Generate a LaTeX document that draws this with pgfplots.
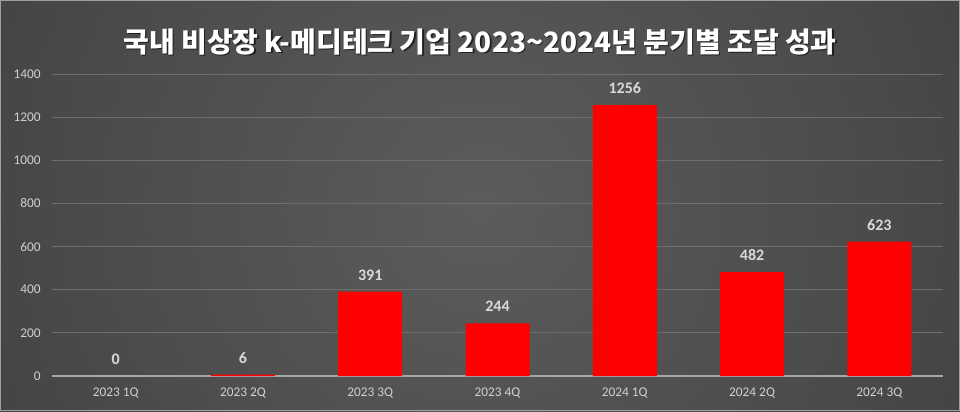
\documentclass[border=0pt]{standalone}
\usepackage{fontspec}
\setmainfont{Carlito}
\newfontfamily\kr{Noto Sans CJK KR}
\usepackage{pgfplots}
\pgfplotsset{compat=1.18}
\definecolor{bgin}{HTML}{5C5C5C}
\definecolor{bgmid}{HTML}{4A4A4A}
\definecolor{bgedge}{HTML}{2E2E2E}
\definecolor{bgout}{HTML}{262626}
\definecolor{gridc}{HTML}{6E6E6E}
\definecolor{axisc}{HTML}{A6A6A6}
\definecolor{tickc}{HTML}{D0D0D0}
\definecolor{valc}{HTML}{D9D9D9}
\definecolor{barred}{HTML}{FF0000}
\pgfdeclareradialshading{bgshade}{\pgfpoint{0bp}{0bp}}{color(0bp)=(bgin); color(19.6bp)=(bgmid); color(46bp)=(bgedge); color(50bp)=(bgout); color(72bp)=(bgout)}
\begin{document}
\begin{tikzpicture}[x=1pt,y=1pt]
\useasboundingbox (0,0) rectangle (720,308.25);
\begin{scope}
\clip (0,0) rectangle (720,308.25);
\shade[shading=bgshade] (-31.5,-237.375) rectangle (751.5,545.625);
\end{scope}
\draw[gray!75, line width=0.9pt] (0.45,0.45) rectangle (719.55,307.8);
\node[text=black, opacity=0.6, font=\kr\bfseries\fontsize{21}{24}\selectfont] at (361,275.75) {국내 비상장 k-메디테크 기업 2023\char`~2024년 분기별 조달 성과};
\node[text=white, font=\kr\bfseries\fontsize{21}{24}\selectfont] at (360,276.75) {국내 비상장 k-메디테크 기업 2023\char`~2024년 분기별 조달 성과};
\begin{axis}[
  at={(39pt,26.25pt)}, anchor=south west,
  scale only axis, width=668.25pt, height=226.5pt,
  xmin=-0.5, xmax=6.5, ymin=0, ymax=1400,
  xtick={0,1,2,3,4,5,6},
  xticklabels={2023 1Q,2023 2Q,2023 3Q,2023 4Q,2024 1Q,2024 2Q,2024 3Q},
  ytick={200,400,...,1400},
  extra y ticks={0},
  extra y tick style={grid style={draw=axisc, line width=1.3pt}},
  ymajorgrids,
  grid style={draw=gridc, line width=0.6pt},
  axis line style={draw=none},
  major tick length=0pt,
  tick style={draw=none},
  /pgf/number format/assume math mode=true,
  /pgf/number format/1000 sep={},
  ticklabel style={font=\fontsize{10}{12}\selectfont, text=tickc},
  yticklabel style={xshift=-5pt},
  xticklabel style={yshift=-5pt},
  ybar, bar width=48pt, bar shift=0pt,
  nodes near coords,
  every node near coord/.append style={font=\bfseries\fontsize{12}{14}\selectfont, text=valc, anchor=south, yshift=5pt},
]
\addplot[fill=none, draw=none] coordinates {(0,0)};
\addplot[fill=barred, draw=none] coordinates {(1,6) (2,391) (3,244) (4,1256) (5,482) (6,623)};
\end{axis}
\end{tikzpicture}
\end{document}
